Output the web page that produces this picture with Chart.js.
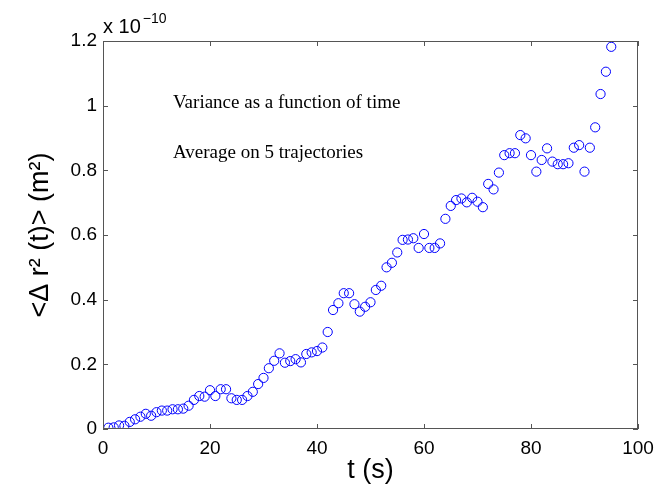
<!DOCTYPE html>
<html>
<head>
<meta charset="utf-8">
<script src="https://cdn.jsdelivr.net/npm/chart.js@4"></script>
<style>
  html, body { margin: 0; padding: 0; background: #fff; }
  #wrap { width: 663px; height: 491px; }
</style>
</head>
<body>
<div id="wrap"><canvas id="myChart" width="663" height="491"></canvas></div>
<script>
// time (s)
const times = [1,2,3,4,5,6,7,8,9,10,11,12,13,14,15,16,17,18,19,20,
  21,22,23,24,25,26,27,28,29,30,31,32,33,34,35,36,37,38,39,40,
  41,42,43,44,45,46,47,48,49,50,51,52,53,54,55,56,57,58,59,60,
  61,62,63,64,65,66,67,68,69,70,71,72,73,74,75,76,77,78,79,80,
  81,82,83,84,85,86,87,88,89,90,91,92,93,94,95];
// variance, in units of 1e-10 m^2
const variance = [0.004,0.005,0.011,0.010,0.022,0.030,0.038,0.047,0.041,0.052,
  0.057,0.057,0.061,0.061,0.063,0.072,0.090,0.102,0.100,0.120,
  0.102,0.123,0.123,0.095,0.090,0.090,0.102,0.115,0.139,0.158,
  0.188,0.211,0.234,0.205,0.210,0.216,0.206,0.232,0.237,0.241,
  0.252,0.300,0.368,0.389,0.420,0.420,0.386,0.363,0.378,0.392,
  0.430,0.443,0.500,0.514,0.546,0.585,0.586,0.590,0.560,0.603,
  0.560,0.560,0.574,0.650,0.690,0.708,0.713,0.701,0.715,0.703,
  0.686,0.758,0.741,0.793,0.847,0.853,0.853,0.909,0.899,0.847,
  0.796,0.832,0.868,0.827,0.819,0.819,0.822,0.870,0.878,0.796,
  0.870,0.933,1.036,1.105,1.182];

const xTicks = [0, 20, 40, 60, 80, 100];
const yTicks = [0, 0.2, 0.4, 0.6, 0.8, 1, 1.2];
const notes = ['Variance as a function of time', 'Average on 5 trajectories'];

const pts = [];
for (let i = 0; i < times.length; i++) {
  pts.push({x: times[i], y: variance[i]});
}

const axisColor = '#555';
const sans = 'Liberation Sans, Arial, sans-serif';
const tickFont = {family: sans, size: 19};

// box, inward ticks on all sides, exponent and the two notes
const boxPlugin = {
  id: 'box',
  afterDraw(chart) {
    const ctx = chart.ctx;
    const a = chart.chartArea;
    const sx = chart.scales.x, sy = chart.scales.y;
    ctx.save();
    ctx.strokeStyle = axisColor;
    ctx.lineWidth = 1;
    ctx.strokeRect(a.left + 0.5, a.top + 0.5, a.right - a.left - 1, a.bottom - a.top - 1);
    ctx.beginPath();
    xTicks.forEach(function(v) {
      const px = Math.round(sx.getPixelForValue(v)) + 0.5;
      ctx.moveTo(px, a.bottom); ctx.lineTo(px, a.bottom - 5);
      ctx.moveTo(px, a.top); ctx.lineTo(px, a.top + 5);
    });
    yTicks.forEach(function(v) {
      const py = Math.round(sy.getPixelForValue(v)) + 0.5;
      ctx.moveTo(a.left, py); ctx.lineTo(a.left + 5, py);
      ctx.moveTo(a.right, py); ctx.lineTo(a.right - 5, py);
    });
    ctx.stroke();

    ctx.fillStyle = '#000';
    ctx.textBaseline = 'alphabetic';
    ctx.textAlign = 'left';
    ctx.font = '20px ' + sans;
    ctx.fillText('x 10', a.left, 33);
    const w = ctx.measureText('x 10').width;
    ctx.font = '14px ' + sans;
    ctx.fillText('\u221210', a.left + w + 2, 23);

    ctx.font = '19px Liberation Serif, Times New Roman, serif';
    ctx.fillText(notes[0], 173, 108);
    ctx.fillText(notes[1], 173, 158);
    ctx.restore();
  }
};

const config = {
  type: 'scatter',
  data: {
    datasets: [{
      data: pts,
      showLine: false,
      pointStyle: 'circle',
      pointRadius: 4.6,
      pointBorderWidth: 1,
      pointBorderColor: 'rgba(0, 0, 255, 1)',
      pointBackgroundColor: 'rgba(0, 0, 0, 0)'
    }]
  },
  options: {
    responsive: false,
    animation: false,
    layout: { padding: {left: 0, right: 25, top: 41, bottom: 0} },
    plugins: { legend: {display: false}, tooltip: {enabled: false} },
    scales: {
      x: {
        type: 'linear',
        min: 0, max: 100,
        afterFit: function(scale) { scale.height = 62; },
        afterBuildTicks: function(scale) { scale.ticks = xTicks.map(v => ({value: v})); },
        grid: {display: false, drawTicks: false},
        border: {display: false},
        ticks: {color: '#000', font: tickFont, padding: 8, maxRotation: 0, autoSkip: false},
        title: {
          display: true, text: 't (s)', color: '#000',
          font: {family: sans, size: 27},
          padding: {top: 0, bottom: 4}
        }
      },
      y: {
        type: 'linear',
        min: 0, max: 1.2,
        afterFit: function(scale) { scale.width = 103; },
        afterBuildTicks: function(scale) { scale.ticks = yTicks.map(v => ({value: v})); },
        grid: {display: false, drawTicks: false},
        border: {display: false},
        ticks: {
          color: '#000', font: tickFont, padding: 6,
          callback: function(v) { return String(Math.round(v * 10) / 10); }
        },
        title: {
          display: true, text: '<\u0394 r\u00b2 (t)> (m\u00b2)', color: '#000',
          font: {family: sans, size: 27},
          padding: {top: 24, bottom: 0}
        }
      }
    }
  },
  plugins: [boxPlugin]
};

const myChart = new Chart(document.getElementById('myChart'), config);
</script>
</body>
</html>
